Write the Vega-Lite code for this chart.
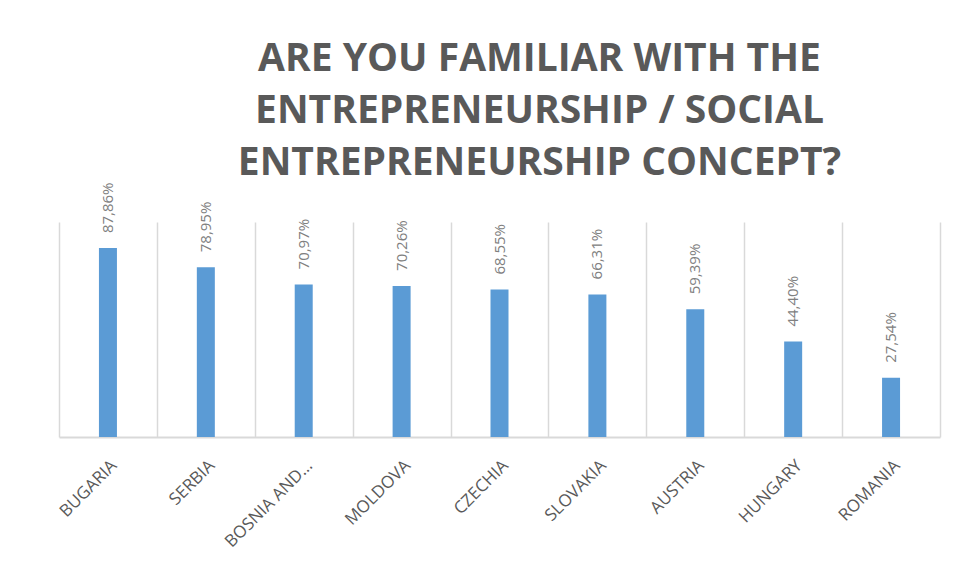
{
  "$schema": "https://vega.github.io/schema/vega-lite/v6.json",
  "width": 881,
  "height": 215,
  "autosize": {"type": "none"},
  "padding": {"left": 59, "top": 222, "right": 18, "bottom": 146},
  "background": "white",
  "config": {
    "locale": {"number": {"decimal": ",", "thousands": ".", "grouping": [3], "currency": ["", " €"]}},
    "view": {"stroke": null},
    "font": "Open Sans"
  },
  "title": {
    "text": ["ARE YOU FAMILIAR WITH THE", "ENTREPRENEURSHIP / SOCIAL", "ENTREPRENEURSHIP CONCEPT?"],
    "font": "Open Sans",
    "fontSize": 39,
    "fontWeight": "bold",
    "color": "#595959",
    "lineHeight": 52,
    "anchor": "middle",
    "dx": 40,
    "offset": 0
  },
  "data": {
    "values": [
      {"country": "BUGARIA", "value": 0.8786},
      {"country": "SERBIA", "value": 0.7895},
      {"country": "BOSNIA AND…", "value": 0.7097},
      {"country": "MOLDOVA", "value": 0.7026},
      {"country": "CZECHIA", "value": 0.6855},
      {"country": "SLOVAKIA", "value": 0.6631},
      {"country": "AUSTRIA", "value": 0.5939},
      {"country": "HUNGARY", "value": 0.444},
      {"country": "ROMANIA", "value": 0.2754}
    ]
  },
  "encoding": {
    "x": {
      "field": "country",
      "type": "nominal",
      "sort": null,
      "scale": {"paddingInner": 0, "paddingOuter": 0},
      "axis": {
        "title": null,
        "labelAngle": -45,
        "labelFont": "Open Sans",
        "labelFontSize": 17,
        "labelColor": "#595959",
        "labelPadding": 20,
        "labelLimit": 200,
        "ticks": false,
        "grid": true,
        "gridColor": "#d9d9d9",
        "gridWidth": 1.5,
        "tickBand": "extent",
        "domainColor": "#d9d9d9",
        "domainWidth": 2
      }
    },
    "y": {
      "field": "value",
      "type": "quantitative",
      "scale": {"domain": [0, 1]},
      "axis": null
    }
  },
  "layer": [
    {
      "mark": {"type": "bar", "width": 18, "color": "#5b9bd5"}
    },
    {
      "mark": {"type": "text", "angle": 270, "align": "left", "baseline": "middle", "dx": 15, "fontSize": 15, "color": "#808080", "font": "Open Sans"},
      "encoding": {"text": {"field": "value", "type": "quantitative", "format": ".2%"}}
    }
  ]
}
